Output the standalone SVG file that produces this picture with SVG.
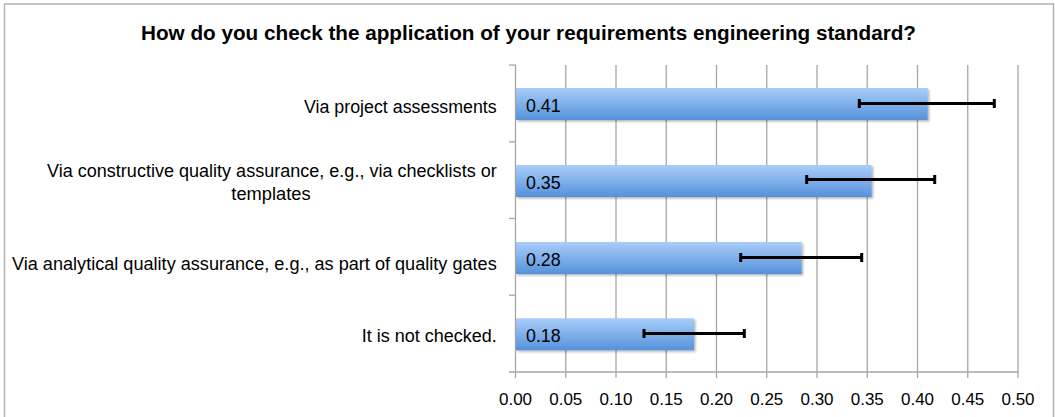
<svg xmlns="http://www.w3.org/2000/svg" width="1055" height="417" viewBox="0 0 1055 417">
  <style>
    .grid { stroke: #a6a6a6; stroke-width: 1.3; fill: none; }
    .axis { stroke: #a6a6a6; stroke-width: 1.3; fill: none; }
    .bar { fill: url(#barGrad); filter: url(#shadow); }
    .err { stroke: #000; stroke-width: 3; fill: none; }
    .cap { stroke: #000; stroke-width: 3; fill: none; }
    .cat { font-family: "Liberation Sans", Arial, sans-serif; font-size: 18.3px; fill: #000; text-anchor: end; }
    .val { font-family: "Liberation Sans", Arial, sans-serif; font-size: 17.8px; fill: #000; }
    .tick { font-family: "Liberation Sans", Arial, sans-serif; font-size: 17px; fill: #000; text-anchor: middle; }
    .title { font-family: "Liberation Sans", Arial, sans-serif; font-size: 19.5px; font-weight: bold; fill: #000; text-anchor: middle; }
  </style>
  <defs>
    <linearGradient id="barGrad" x1="0" y1="0" x2="0" y2="1">
      <stop offset="0" stop-color="#a9cdfa"/>
      <stop offset="1" stop-color="#5592da"/>
    </linearGradient>
    <filter id="shadow" x="-5%" y="-20%" width="110%" height="150%">
      <feDropShadow dx="1.5" dy="1.5" stdDeviation="1.2" flood-color="#000" flood-opacity="0.3"/>
    </filter>
  </defs>

  <rect x="0" y="0" width="1055" height="417" fill="#fff"/>
  <rect id="frame" x="4.5" y="4" width="1049" height="420" fill="none" stroke="#b3b3b3" stroke-width="1.5"/>

  <text id="title" class="title" x="528.5" y="40" textLength="775" lengthAdjust="spacingAndGlyphs">How do you check the application of your requirements engineering standard?</text>

  <g id="grid">
    <line class="grid" x1="565.75" y1="65" x2="565.75" y2="372"/>
    <line class="grid" x1="616" y1="65" x2="616" y2="372"/>
    <line class="grid" x1="666.25" y1="65" x2="666.25" y2="372"/>
    <line class="grid" x1="716.5" y1="65" x2="716.5" y2="372"/>
    <line class="grid" x1="766.75" y1="65" x2="766.75" y2="372"/>
    <line class="grid" x1="817" y1="65" x2="817" y2="372"/>
    <line class="grid" x1="867.25" y1="65" x2="867.25" y2="372"/>
    <line class="grid" x1="917.5" y1="65" x2="917.5" y2="372"/>
    <line class="grid" x1="967.75" y1="65" x2="967.75" y2="372"/>
    <line class="grid" x1="1018" y1="65" x2="1018" y2="372"/>
  </g>

  <g id="axes">
    <line class="axis" x1="515.5" y1="65" x2="515.5" y2="378"/>
    <line class="axis" x1="509" y1="372" x2="1018" y2="372"/>
    <line class="axis" x1="509" y1="65" x2="515.5" y2="65"/>
    <line class="axis" x1="509" y1="141.8" x2="515.5" y2="141.8"/>
    <line class="axis" x1="509" y1="218.5" x2="515.5" y2="218.5"/>
    <line class="axis" x1="509" y1="295.3" x2="515.5" y2="295.3"/>
    <line class="axis" x1="565.75" y1="372" x2="565.75" y2="378"/>
    <line class="axis" x1="616" y1="372" x2="616" y2="378"/>
    <line class="axis" x1="666.25" y1="372" x2="666.25" y2="378"/>
    <line class="axis" x1="716.5" y1="372" x2="716.5" y2="378"/>
    <line class="axis" x1="766.75" y1="372" x2="766.75" y2="378"/>
    <line class="axis" x1="817" y1="372" x2="817" y2="378"/>
    <line class="axis" x1="867.25" y1="372" x2="867.25" y2="378"/>
    <line class="axis" x1="917.5" y1="372" x2="917.5" y2="378"/>
    <line class="axis" x1="967.75" y1="372" x2="967.75" y2="378"/>
    <line class="axis" x1="1018" y1="372" x2="1018" y2="378"/>
  </g>

  <g id="tick-labels">
    <text class="tick" x="515.5" y="405">0.00</text>
    <text class="tick" x="565.75" y="405">0.05</text>
    <text class="tick" x="616" y="405">0.10</text>
    <text class="tick" x="666.25" y="405">0.15</text>
    <text class="tick" x="716.5" y="405">0.20</text>
    <text class="tick" x="766.75" y="405">0.25</text>
    <text class="tick" x="817" y="405">0.30</text>
    <text class="tick" x="867.25" y="405">0.35</text>
    <text class="tick" x="917.5" y="405">0.40</text>
    <text class="tick" x="967.75" y="405">0.45</text>
    <text class="tick" x="1018" y="405">0.50</text>
  </g>

  <g id="bar-project-assessments">
    <rect class="bar" x="516" y="88" width="411.7" height="32"/>
    <text class="val" x="526" y="112">0.41</text>
    <text class="cat" x="496.7" y="113" textLength="192.7" lengthAdjust="spacingAndGlyphs">Via project assessments</text>
  </g>

  <g id="bar-constructive">
    <rect class="bar" x="516" y="165" width="355.7" height="32"/>
    <text class="val" x="526" y="189">0.35</text>
    <text class="cat" x="496.7" y="176.7" textLength="449.7" lengthAdjust="spacingAndGlyphs">Via constructive quality assurance, e.g., via checklists or</text>
    <text class="cat" x="271" y="200" style="text-anchor: middle">templates</text>
  </g>

  <g id="bar-analytical">
    <rect class="bar" x="516" y="242" width="285.7" height="32"/>
    <text class="val" x="526" y="265.5">0.28</text>
    <text class="cat" x="496.7" y="270" textLength="484.7" lengthAdjust="spacingAndGlyphs">Via analytical quality assurance, e.g., as part of quality gates</text>
  </g>

  <g id="bar-not-checked">
    <rect class="bar" x="516" y="318.3" width="178" height="32"/>
    <text class="val" x="526" y="342">0.18</text>
    <text class="cat" x="496.7" y="342" textLength="135" lengthAdjust="spacingAndGlyphs">It is not checked.</text>
  </g>

  <g id="error-bars">
    <line class="err" x1="859.3" y1="103.5" x2="994.3" y2="103.5"/>
    <line class="cap" x1="859.3" y1="99" x2="859.3" y2="108"/>
    <line class="cap" x1="994.3" y1="99" x2="994.3" y2="108"/>

    <line class="err" x1="806.7" y1="179.5" x2="934.7" y2="179.5"/>
    <line class="cap" x1="806.7" y1="175" x2="806.7" y2="184"/>
    <line class="cap" x1="934.7" y1="175" x2="934.7" y2="184"/>

    <line class="err" x1="740.7" y1="257.5" x2="861.7" y2="257.5"/>
    <line class="cap" x1="740.7" y1="253" x2="740.7" y2="262"/>
    <line class="cap" x1="861.7" y1="253" x2="861.7" y2="262"/>

    <line class="err" x1="644" y1="333.5" x2="744.3" y2="333.5"/>
    <line class="cap" x1="644" y1="329" x2="644" y2="338"/>
    <line class="cap" x1="744.3" y1="329" x2="744.3" y2="338"/>
  </g>
</svg>
